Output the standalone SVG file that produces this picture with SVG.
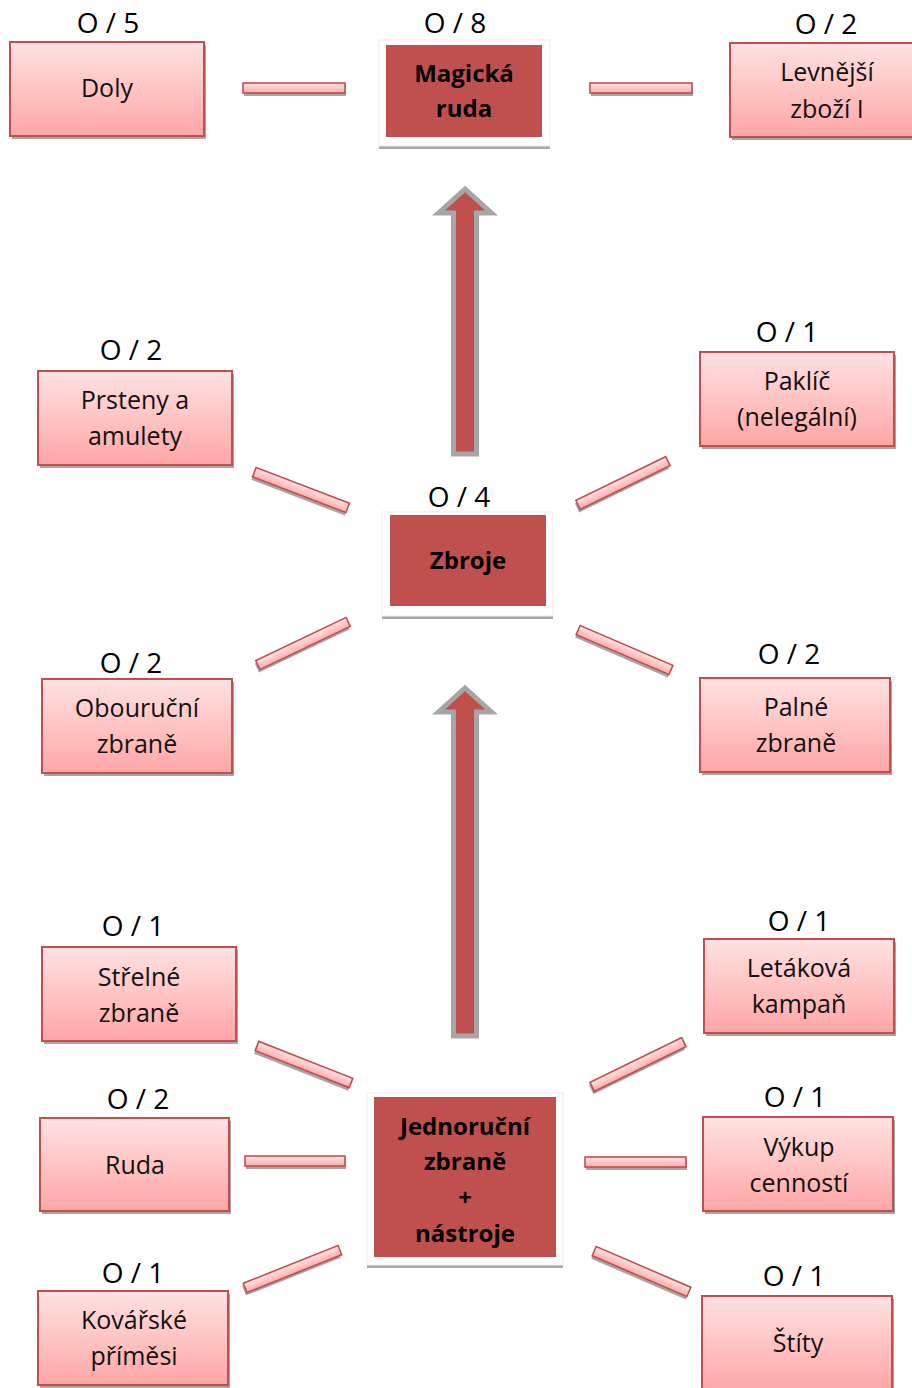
<svg xmlns="http://www.w3.org/2000/svg" width="912" height="1388" viewBox="0 0 912 1388">
<defs>
<linearGradient id="pk" x1="0" y1="0" x2="0" y2="1">
<stop offset="0" stop-color="#ffe2e2"/>
<stop offset="1" stop-color="#ffa6a6"/>
</linearGradient>
<linearGradient id="bar" x1="0" y1="0" x2="0" y2="1">
<stop offset="0" stop-color="#ffe4e4"/>
<stop offset="1" stop-color="#ffaaaa"/>
</linearGradient>
</defs>
<style>
.box{fill:url(#pk);stroke:#c0504d;stroke-width:2}
.sh{fill:#a6a6a6}
.frame{fill:#ffffff;stroke:#ececec;stroke-width:1}
.dark{fill:#c0504d}
.t{font-family:"Open Sans","Liberation Sans",sans-serif;font-size:25px;fill:#111;text-anchor:middle}
.tb{font-family:"Open Sans","Liberation Sans",sans-serif;font-size:24px;font-weight:bold;fill:#000;text-anchor:middle}
.c{font-family:"Open Sans","Liberation Sans",sans-serif;font-size:28px;fill:#000;text-anchor:middle}
.b{fill:url(#bar);stroke:#c0504d;stroke-width:1.6}
.bs{fill:#a6a6a6}
.arr{fill:#c0504d;stroke:#a6a6a6;stroke-width:5;stroke-linejoin:miter}
</style>

<g id="connectors">
<g transform="translate(295,91)"><rect class="bs" x="-51" y="-5" width="102" height="10"/></g>
<g transform="translate(294,88)"><rect class="b" x="-51" y="-5" width="102" height="10"/></g>
<g transform="translate(642,91)"><rect class="bs" x="-51" y="-5" width="102" height="10"/></g>
<g transform="translate(641,88)"><rect class="b" x="-51" y="-5" width="102" height="10"/></g>

<g transform="translate(300,493) rotate(21)"><rect class="bs" x="-50" y="-5" width="100" height="10"/></g>
<g transform="translate(301,490) rotate(21)"><rect class="b" x="-50" y="-5" width="100" height="10"/></g>
<g transform="translate(622,486) rotate(-26)"><rect class="bs" x="-50" y="-5" width="100" height="10"/></g>
<g transform="translate(623,483) rotate(-26)"><rect class="b" x="-50" y="-5" width="100" height="10"/></g>
<g transform="translate(302,646.5) rotate(-25.5)"><rect class="bs" x="-50" y="-5" width="100" height="10"/></g>
<g transform="translate(303,643.5) rotate(-25.5)"><rect class="b" x="-50" y="-5" width="100" height="10"/></g>
<g transform="translate(623.5,653) rotate(23.3)"><rect class="bs" x="-50.5" y="-5" width="101" height="10"/></g>
<g transform="translate(624.5,650) rotate(23.3)"><rect class="b" x="-50.5" y="-5" width="101" height="10"/></g>

<g transform="translate(303,1067.5) rotate(21.5)"><rect class="bs" x="-50.5" y="-5" width="101" height="10"/></g>
<g transform="translate(304,1064.5) rotate(21.5)"><rect class="b" x="-50.5" y="-5" width="101" height="10"/></g>
<g transform="translate(637,1067.5) rotate(-26)"><rect class="bs" x="-51" y="-5" width="102" height="10"/></g>
<g transform="translate(638,1064.5) rotate(-26)"><rect class="b" x="-51" y="-5" width="102" height="10"/></g>
<g transform="translate(296,1164)"><rect class="bs" x="-50" y="-5" width="100" height="10"/></g>
<g transform="translate(295,1161)"><rect class="b" x="-50" y="-5" width="100" height="10"/></g>
<g transform="translate(636.5,1165)"><rect class="bs" x="-50.5" y="-5" width="101" height="10"/></g>
<g transform="translate(635.5,1162)"><rect class="b" x="-50.5" y="-5" width="101" height="10"/></g>
<g transform="translate(291.5,1272) rotate(-21.8)"><rect class="bs" x="-51" y="-5" width="102" height="10"/></g>
<g transform="translate(292.5,1269) rotate(-21.8)"><rect class="b" x="-51" y="-5" width="102" height="10"/></g>
<g transform="translate(640.5,1274.5) rotate(23.3)"><rect class="bs" x="-51.5" y="-5" width="103" height="10"/></g>
<g transform="translate(641.5,1271.5) rotate(23.3)"><rect class="b" x="-51.5" y="-5" width="103" height="10"/></g>

<polygon class="arr" points="453.5,454 476.5,454 476.5,213 491.5,213 465,189 438.5,213 453.5,213"/>
<polygon class="arr" points="453.5,1036 476.5,1036 476.5,712 491.5,712 465,688 438.5,712 453.5,712"/>
</g>

<g id="doly">
<rect class="sh" x="12" y="45" width="194" height="94"/>
<rect class="box" x="10" y="42" width="194" height="94"/>
<text class="t" x="107" y="97">Doly</text>
<text class="c" x="108" y="33">O / 5</text>
</g>

<g id="magicka-ruda">
<rect class="sh" x="379" y="43" width="171" height="106"/>
<rect class="frame" x="379" y="40" width="171" height="106"/>
<rect class="dark" x="386" y="45" width="156" height="92"/>
<text class="tb" x="464" y="82">Magická</text>
<text class="tb" x="464" y="117">ruda</text>
<text class="c" x="455" y="33">O / 8</text>
</g>

<g id="levnejsi">
<rect class="sh" x="732" y="46" width="194" height="94"/>
<rect class="box" x="730" y="43" width="194" height="94"/>
<text class="t" x="827" y="81">Levnější</text>
<text class="t" x="827" y="118">zboží I</text>
<text class="c" x="826" y="34">O / 2</text>
</g>

<g id="prsteny">
<rect class="sh" x="40" y="374" width="194" height="94"/>
<rect class="box" x="38" y="371" width="194" height="94"/>
<text class="t" x="135" y="409">Prsteny a</text>
<text class="t" x="135" y="445">amulety</text>
<text class="c" x="131" y="360">O / 2</text>
</g>

<g id="paklic">
<rect class="sh" x="702" y="355" width="194" height="94"/>
<rect class="box" x="700" y="352" width="194" height="94"/>
<text class="t" x="797" y="390">Paklíč</text>
<text class="t" x="797" y="426">(nelegální)</text>
<text class="c" x="787" y="342">O / 1</text>
</g>

<g id="zbroje">
<rect class="sh" x="382" y="515" width="171" height="104"/>
<rect class="frame" x="382" y="512" width="171" height="104"/>
<rect class="dark" x="390" y="515" width="156" height="91"/>
<text class="tb" x="468" y="569">Zbroje</text>
<text class="c" x="459" y="507">O / 4</text>
</g>

<g id="obourucni">
<rect class="sh" x="44" y="682" width="190" height="94"/>
<rect class="box" x="42" y="679" width="190" height="94"/>
<text class="t" x="137" y="717">Obouruční</text>
<text class="t" x="137" y="753">zbraně</text>
<text class="c" x="131" y="673">O / 2</text>
</g>

<g id="palne">
<rect class="sh" x="702" y="681" width="190" height="94"/>
<rect class="box" x="700" y="678" width="190" height="94"/>
<text class="t" x="796" y="716">Palné</text>
<text class="t" x="796" y="752">zbraně</text>
<text class="c" x="789" y="664">O / 2</text>
</g>

<g id="strelne">
<rect class="sh" x="44" y="950" width="194" height="94"/>
<rect class="box" x="42" y="947" width="194" height="94"/>
<text class="t" x="139" y="986">Střelné</text>
<text class="t" x="139" y="1022">zbraně</text>
<text class="c" x="133" y="936">O / 1</text>
</g>

<g id="letakova">
<rect class="sh" x="706" y="942" width="190" height="94"/>
<rect class="box" x="704" y="939" width="190" height="94"/>
<text class="t" x="799" y="977">Letáková</text>
<text class="t" x="799" y="1013">kampaň</text>
<text class="c" x="799" y="931">O / 1</text>
</g>

<g id="ruda">
<rect class="sh" x="42" y="1121" width="189" height="93"/>
<rect class="box" x="40" y="1118" width="189" height="93"/>
<text class="t" x="135" y="1174">Ruda</text>
<text class="c" x="138" y="1109">O / 2</text>
</g>

<g id="vykup">
<rect class="sh" x="705" y="1120" width="190" height="94"/>
<rect class="box" x="703" y="1117" width="190" height="94"/>
<text class="t" x="799" y="1156">Výkup</text>
<text class="t" x="799" y="1192">cenností</text>
<text class="c" x="795" y="1107">O / 1</text>
</g>

<g id="kovarske">
<rect class="sh" x="40" y="1294" width="190" height="94"/>
<rect class="box" x="38" y="1291" width="190" height="94"/>
<text class="t" x="134" y="1329">Kovářské</text>
<text class="t" x="134" y="1365">příměsi</text>
<text class="c" x="133" y="1283">O / 1</text>
</g>

<g id="stity">
<rect class="sh" x="704" y="1299" width="190" height="94"/>
<rect class="box" x="702" y="1296" width="190" height="94"/>
<text class="t" x="798" y="1352">Štíty</text>
<text class="c" x="794" y="1286">O / 1</text>
</g>

<g id="jednorucni">
<rect class="sh" x="367" y="1096" width="196" height="172"/>
<rect class="frame" x="367" y="1093" width="196" height="172"/>
<rect class="dark" x="374" y="1097" width="182" height="160"/>
<text class="tb" x="465" y="1135">Jednoruční</text>
<text class="tb" x="465" y="1170">zbraně</text>
<text class="tb" x="465" y="1206">+</text>
<text class="tb" x="465" y="1242">nástroje</text>
</g>
</svg>
